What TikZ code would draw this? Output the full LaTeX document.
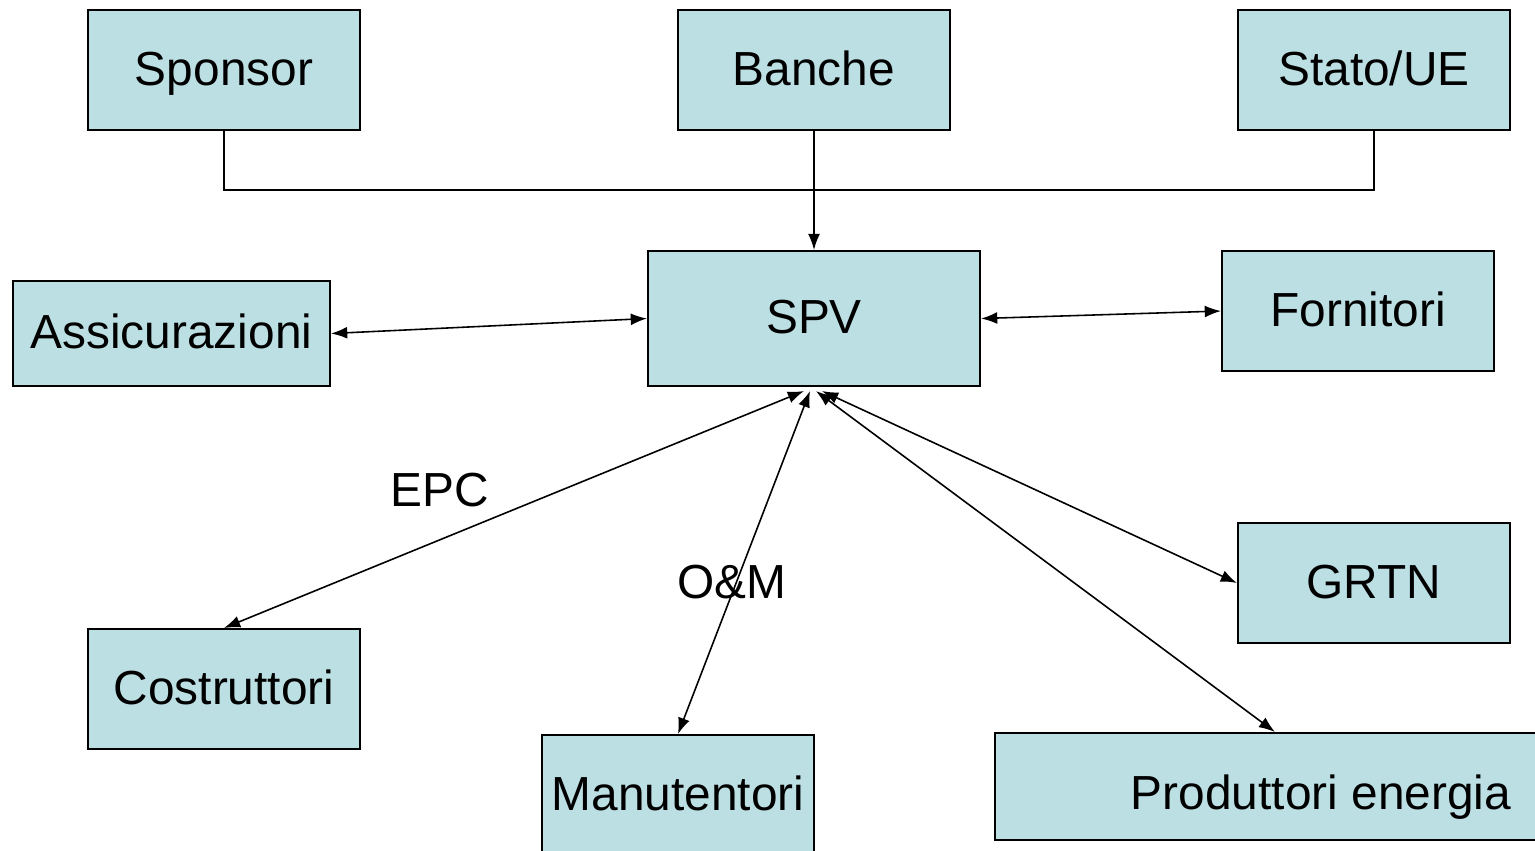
\documentclass[tikz,border=0pt]{standalone}
\usepackage{fontspec}
\setmainfont{Liberation Sans}
\usetikzlibrary{arrows.meta,calc}
\definecolor{boxfill}{RGB}{187,223,227}
\tikzset{
  entity/.style={draw=black, line width=0.55pt, fill=boxfill, inner sep=0pt, text height=0.30cm, text depth=0pt, font=\fontsize{13.6}{16}\selectfont},
  link/.style={line width=0.45pt, {Latex[length=4.6pt,width=3.4pt]}-{Latex[length=4.6pt,width=3.4pt]}},
  onelink/.style={line width=0.45pt, -{Latex[length=4.6pt,width=3.4pt]}},
  plain/.style={line width=0.45pt},
  lbl/.style={font=\fontsize{13.6}{16}\selectfont, inner sep=0pt}
}
\begin{document}
\begin{tikzpicture}[x=0.01cm,y=-0.01cm]
\useasboundingbox (0,0) rectangle (1535,850);
\clip (0,0) rectangle (1535,850);
\node[entity, minimum width=2.72cm, minimum height=1.2cm] (sponsor) at (224,70) {Sponsor};
\node[entity, minimum width=2.72cm, minimum height=1.2cm] (banche) at (814,70) {Banche};
\node[entity, minimum width=2.72cm, minimum height=1.2cm] (stato) at (1374,70) {Stato/UE};
\node[entity, minimum width=3.32cm, minimum height=1.35cm] (spv) at (814,318.5) {SPV};
\node[entity, minimum width=3.17cm, minimum height=1.05cm] (assic) at (171.5,333.5) {Assicurazioni};
\node[entity, minimum width=2.72cm, minimum height=1.2cm] (forn) at (1358,311) {Fornitori};
\node[entity, minimum width=2.72cm, minimum height=1.2cm] (grtn) at (1374,583) {GRTN};
\node[entity, minimum width=2.72cm, minimum height=1.2cm] (costr) at (224,689) {Costruttori};
\node[entity, minimum width=2.72cm, minimum height=1.2cm] (manu) at (678,795) {Manutentori};
\node[entity, minimum width=5.6cm, minimum height=1.07cm, text height=0.45cm] (prod) at (1275,786.5) {\hspace*{0.92cm}Produttori energia};

\coordinate (join) at (814,190);
\draw[plain] (sponsor.south) |- (join);
\draw[plain] (stato.south) |- (join);
\draw[onelink] (banche.south) -- (spv.north);

\draw[link] (assic.east) -- (spv.west);
\draw[link] (spv.east) -- (forn.west);
\draw[link] ($(spv.south)+(-10,4)$) -- (costr.north);
\draw[link] ($(spv.south)+(-4,4)$) -- (manu.north);
\draw[link] ($(spv.south)+(2,4)$) -- (prod.north);
\draw[link] ($(spv.south)+(8,4)$) -- (grtn.west);

\node[lbl] (epc) at (440,490) {EPC};
\node[lbl] (om) at (732,582) {O\&M};
\end{tikzpicture}
\end{document}
